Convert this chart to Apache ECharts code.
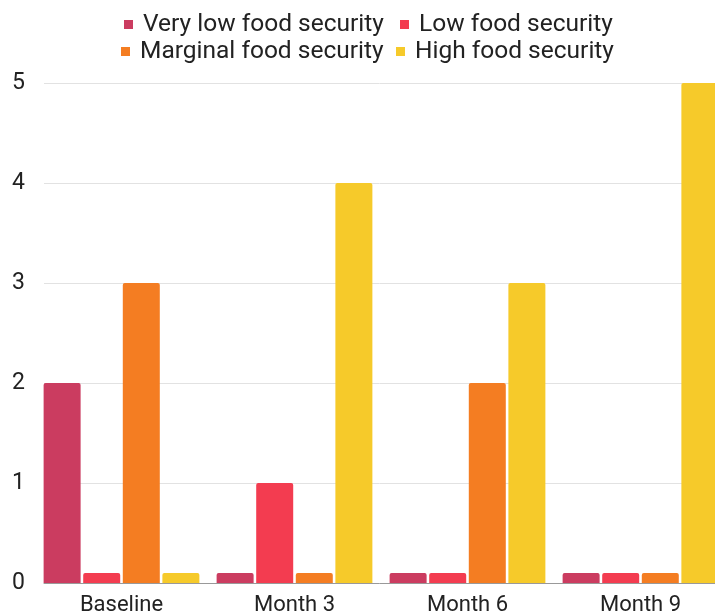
<!DOCTYPE html>
<html><head><meta charset="utf-8">
<script src="https://cdn.jsdelivr.net/npm/echarts@6/dist/echarts.min.js"></script>
<style>html,body{margin:0;padding:0;background:#fff}#c{width:715px;height:616px}</style>
</head><body><div id="c"></div>
<script>
const categories = ['Baseline', 'Month 3', 'Month 6', 'Month 9'];
const seriesNames = ['Very low food security', 'Low food security', 'Marginal food security', 'High food security'];
const veryLow = [2, 0, 0, 0];
const low = [0, 1, 0, 0];
const marginal = [3, 0, 2, 0];
const high = [0, 4, 3, 5];
const yTicks = [0, 1, 2, 3, 4, 5];
const colors = ['#cb3c60', '#f33c50', '#f47d22', '#f6ca2a'];
const values = [veryLow, low, marginal, high];

const chart = echarts.init(document.getElementById('c'));
const font = 'Roboto';
const legendPos = [[124, 12], [400, 12], [121, 39], [396, 39]];
chart.setOption({
  animation: false,
  textStyle: { fontFamily: font },
  legend: seriesNames.map((n, i) => ({
    left: legendPos[i][0], top: legendPos[i][1], padding: 0,
    itemWidth: 9, itemHeight: 9, icon: 'rect',
    textStyle: { fontSize: 24.5, lineHeight: 24, color: '#222', fontFamily: font, padding: [0, 0, 0, 5] },
    data: [n]
  })),
  grid: [
    { left: 44, right: 0, top: 83, bottom: 33, outerBoundsMode: 'none' },
    { left: 35, width: 692, top: 83, bottom: 33, outerBoundsMode: 'none' }
  ],
  xAxis: [
    { type: 'category', gridIndex: 0, data: categories,
      axisLine: { show: true, lineStyle: { color: '#999', width: 1 } },
      axisTick: { show: false }, axisLabel: { show: false } },
    { type: 'category', gridIndex: 1, data: categories,
      axisLine: { show: false }, axisTick: { show: false },
      axisLabel: { fontSize: 22, color: '#222', margin: 11, fontFamily: font } }
  ],
  yAxis: [
    { type: 'value', gridIndex: 0, min: yTicks[0], max: yTicks[yTicks.length - 1], interval: 1,
      axisLine: { show: false }, axisTick: { show: false },
      axisLabel: { fontSize: 23, color: '#222', margin: 19, fontFamily: font },
      splitLine: { lineStyle: { color: '#e2e2e2', width: 1 } } },
    { type: 'value', gridIndex: 1, min: yTicks[0], max: yTicks[yTicks.length - 1], interval: 1,
      show: false, splitLine: { show: false } }
  ],
  series: seriesNames.map((n, i) => ({
    name: n, type: 'bar', xAxisIndex: 1, yAxisIndex: 1,
    data: values[i], barWidth: 37, barGap: '7%', barMinHeight: 10,
    itemStyle: { color: colors[i], borderRadius: [2, 2, 0, 0] },
    z: 3
  }))
});
</script></body></html>
